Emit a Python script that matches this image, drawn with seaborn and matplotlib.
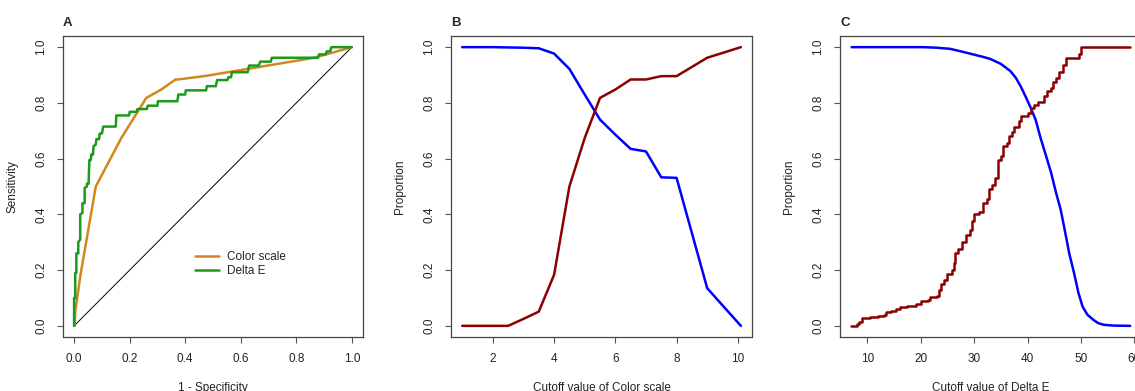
import matplotlib
matplotlib.use("Agg")
import matplotlib.pyplot as plt
import seaborn as sns

# ---- data ----
# A: ROC curves
fpr_color = [0.0, 0.002, 0.004, 0.023, 0.078, 0.17, 0.26, 0.314, 0.365, 0.374, 0.467, 0.469, 0.865, 1.0]
tpr_color = [0.0, 0.0, 0.051, 0.183, 0.50, 0.674, 0.818, 0.848, 0.884, 0.884, 0.896, 0.896, 0.962, 1.0]

fpr_delta = [0.000, 0.000, 0.004, 0.004, 0.008, 0.008, 0.015, 0.015, 0.022, 0.022, 0.030, 0.030,
             0.038, 0.038, 0.046, 0.046, 0.052, 0.055, 0.060, 0.062, 0.068, 0.070, 0.078, 0.080,
             0.090, 0.092, 0.100, 0.105, 0.150, 0.152, 0.198, 0.200, 0.225, 0.228, 0.262, 0.265,
             0.300, 0.302, 0.372, 0.375, 0.400, 0.402, 0.475, 0.478, 0.510, 0.515, 0.552, 0.556,
             0.565, 0.568, 0.625, 0.630, 0.665, 0.670, 0.708, 0.712, 0.878, 0.882, 0.905, 0.910,
             0.922, 0.926, 1.000]
tpr_delta = [0.000, 0.100, 0.100, 0.190, 0.190, 0.260, 0.260, 0.300, 0.310, 0.400, 0.405, 0.440,
             0.440, 0.495, 0.500, 0.510, 0.510, 0.595, 0.595, 0.615, 0.615, 0.645, 0.650, 0.670,
             0.670, 0.690, 0.690, 0.715, 0.715, 0.755, 0.755, 0.768, 0.768, 0.778, 0.778, 0.790,
             0.790, 0.806, 0.806, 0.830, 0.830, 0.845, 0.845, 0.860, 0.860, 0.882, 0.882, 0.892,
             0.892, 0.910, 0.910, 0.934, 0.934, 0.948, 0.948, 0.962, 0.962, 0.974, 0.974, 0.985,
             0.985, 1.000, 1.000]
diag = [0, 1]

# B: cutoff of Color scale
cut_color = [1, 2, 2.5, 3, 3.5, 4, 4.5, 5, 5.5, 6, 6.5, 7, 7.5, 8, 9, 10.1]
blue_color = [1.0, 1.0, 0.999, 0.998, 0.996, 0.977, 0.922, 0.83, 0.740, 0.686, 0.635, 0.626, 0.533, 0.531, 0.135, 0.0]
red_color = [0.0, 0.0, 0.0, 0.025, 0.051, 0.183, 0.50, 0.674, 0.818, 0.848, 0.884, 0.884, 0.896, 0.896, 0.962, 1.0]

# C: cutoff of Delta E
cut_delta_blue = [7.07, 20.5, 23, 25.5, 27.5, 29.8, 31.5, 33, 35, 36.8, 37.8, 38.7, 39.7, 40.6, 41.5,
                  42.5, 43.4, 44.4, 45.3, 46.2, 47, 47.8, 48.7, 49.5, 50.3, 51.2, 52.3, 53.2, 54.2, 56, 59.2]
blue_delta = [1.0, 1.0, 0.998, 0.994, 0.985, 0.974, 0.966, 0.958, 0.94, 0.914, 0.89, 0.86, 0.82, 0.782, 0.74,
              0.67, 0.614, 0.55, 0.48, 0.417, 0.34, 0.26, 0.19, 0.12, 0.069, 0.04, 0.022, 0.01, 0.004, 0.001, 0.0]
cut_delta_red = [7.0, 8.0, 8.5, 9.0, 10.5, 12.0, 13.2, 13.6, 14.5, 15.3, 16.2, 17.5, 19.2, 20.0, 21.4,
                 21.8, 23.0, 23.4, 23.8, 24.4, 25.0, 25.8, 26.2, 26.4, 27.0, 27.8, 28.4, 29.2, 29.6, 30.0,
                 31.0, 31.6, 32.4, 32.8, 33.4, 33.9, 34.4, 35.0, 35.4, 36.2, 36.6, 37.0, 37.4, 38.4, 38.8,
                 40.0, 40.6, 41.2, 42.0, 43.0, 43.6, 44.4, 44.8, 45.4, 45.8, 46.6, 47.2, 49.6, 50.0, 59.2]
red_delta = [0.0, 0.007, 0.015, 0.028, 0.030, 0.035, 0.040, 0.051, 0.055, 0.060, 0.066, 0.070, 0.078, 0.090, 0.092,
             0.104, 0.106, 0.130, 0.150, 0.165, 0.185, 0.200, 0.225, 0.262, 0.275, 0.300, 0.325, 0.345, 0.375, 0.400,
             0.410, 0.440, 0.455, 0.490, 0.505, 0.530, 0.595, 0.610, 0.645, 0.655, 0.680, 0.695, 0.715, 0.735, 0.752,
             0.765, 0.780, 0.793, 0.805, 0.825, 0.843, 0.855, 0.875, 0.890, 0.910, 0.935, 0.962, 0.975, 1.0, 1.0]

yticks = [0.0, 0.2, 0.4, 0.6, 0.8, 1.0]

sns.set_style('ticks')
plt.rcParams['font.family'] = ['Liberation Sans', 'DejaVu Sans']
plt.rcParams['font.size'] = 8.5

ORANGE = '#D4861E'
GREEN = '#1C9A1C'
BLUE = '#0000FF'
DARKRED = '#8B0000'
LW = 1.8

fig = plt.figure(figsize=(11.35, 3.91), dpi=100)
ax_a = fig.add_axes([0.0555, 0.1381, 0.2643, 0.7698])
ax_b = fig.add_axes([0.3974, 0.1381, 0.2652, 0.7698])
ax_c = fig.add_axes([0.7401, 0.1381, 0.2655, 0.7698])


def style(ax, title, xlabel, ylabel):
    for s in ax.spines.values():
        s.set_visible(True)
        s.set_color('#444444')
        s.set_linewidth(0.9)
    ax.tick_params(direction='out', length=4.5, width=0.8, color='#555555',
                   labelsize=8.5, labelcolor='#222222', pad=7)
    ax.set_yticks(yticks)
    ax.set_yticklabels([f'{v:.1f}' for v in yticks], rotation=90, va='center')
    ax.set_ylim(-0.04, 1.04)
    ax.set_xlabel(xlabel, fontsize=8.5, color='#222222', labelpad=12)
    ax.set_ylabel(ylabel, fontsize=8.5, color='#222222', labelpad=12)
    ax.set_title(title, loc='left', fontweight='bold', fontsize=9.5, pad=7)


# A
sns.lineplot(x=diag, y=diag, ax=ax_a, color='black', linewidth=0.7, sort=False, estimator=None)
sns.lineplot(x=fpr_color, y=tpr_color, ax=ax_a, color=ORANGE, linewidth=LW, sort=False,
             estimator=None, label='Color scale')
sns.lineplot(x=fpr_delta, y=tpr_delta, ax=ax_a, color=GREEN, linewidth=LW, sort=False,
             estimator=None, label='Delta E')
ax_a.set_xlim(-0.04, 1.04)
ax_a.set_xticks(yticks)
ax_a.set_xticklabels([f'{v:.1f}' for v in yticks])
style(ax_a, 'A', '1 - Specificity', 'Sensitivity')
ax_a.legend(loc='center left', bbox_to_anchor=(0.44, 0.2425), frameon=False, fontsize=8.5,
            handlelength=2.0, handletextpad=0.75, labelspacing=0.2, borderpad=0, borderaxespad=0)

# B
sns.lineplot(x=cut_color, y=blue_color, ax=ax_b, color=BLUE, linewidth=LW, sort=False, estimator=None)
sns.lineplot(x=cut_color, y=red_color, ax=ax_b, color=DARKRED, linewidth=LW, sort=False, estimator=None)
ax_b.set_xlim(0.636, 10.464)
ax_b.set_xticks([2, 4, 6, 8, 10])
style(ax_b, 'B', 'Cutoff value of Color scale', 'Proportion')

# C
sns.lineplot(x=cut_delta_blue, y=blue_delta, ax=ax_c, color=BLUE, linewidth=LW, sort=False, estimator=None)
sns.lineplot(x=cut_delta_red, y=red_delta, ax=ax_c, color=DARKRED, linewidth=LW, sort=False,
             estimator=None, drawstyle='steps-post')
ax_c.set_xlim(4.9, 61.3)
ax_c.set_xticks([10, 20, 30, 40, 50, 60])
style(ax_c, 'C', 'Cutoff value of Delta E', 'Proportion')

fig.savefig('out.png', dpi=100)
